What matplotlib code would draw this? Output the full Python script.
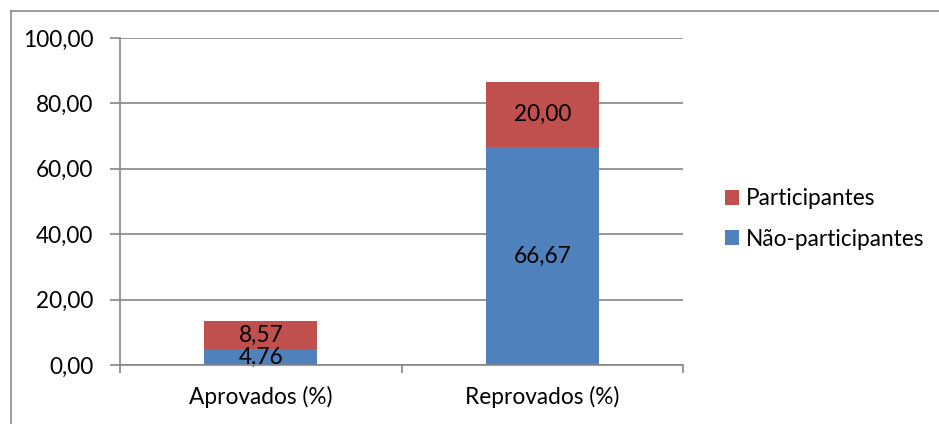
import matplotlib
matplotlib.use("Agg")
import matplotlib.pyplot as plt
from matplotlib.lines import Line2D
from matplotlib.patches import Patch

categories = ["Aprovados (%)", "Reprovados (%)"]
nao_participantes = [4.76, 66.67]
participantes = [8.57, 20.00]
series_names = ["Não-participantes", "Participantes"]
yticks = [0, 20, 40, 60, 80, 100]

BLUE = "#4F81BD"
RED = "#C0504D"
GRID = "#868686"

plt.rcParams['font.family'] = ['Lato', 'DejaVu Sans']

W, H = 939, 424
fig = plt.figure(figsize=(W / 100, H / 100), dpi=100)
fig.patch.set_facecolor("white")

# outer chart frame (top and left edges visible)
fig.add_artist(Line2D([10.5 / W, 10.5 / W], [0, 1 - 10.5 / H], transform=fig.transFigure, color="#8C8C8C", lw=1.2))
fig.add_artist(Line2D([10.5 / W, 1], [1 - 10.5 / H, 1 - 10.5 / H], transform=fig.transFigure, color="#8C8C8C", lw=1.2))

left, right = 120 / W, 683 / W
bottom, top = 1 - 365 / H, 1 - 38 / H
ax = fig.add_axes([left, bottom, right - left, top - bottom])

x = list(range(len(categories)))
width = 0.4
b1 = ax.bar(x, nao_participantes, width, color=BLUE, label=series_names[0], zorder=3)
b2 = ax.bar(x, participantes, width, bottom=nao_participantes, color=RED, label=series_names[1], zorder=3)

def fmt(v):
    return f"{v:.2f}".replace(".", ",")

fs = 16.3
for bars, vals, bases in ((b1, nao_participantes, [0] * len(x)), (b2, participantes, nao_participantes)):
    for rect, v, b0 in zip(bars, vals, bases):
        ax.text(rect.get_x() + rect.get_width() / 2, b0 + v / 2, fmt(v),
                ha="center", va="center", fontsize=fs, color="black", zorder=4)

ax.set_xlim(-0.5, 1.5)
ax.set_ylim(0, 100)
ax.set_yticks(yticks)
ax.set_yticklabels([fmt(t) for t in yticks], fontsize=fs)
ax.set_xticks(x)
ax.set_xticklabels(categories, fontsize=fs)
ax.set_xticks([-0.5, 0.5, 1.5], minor=True)
ax.tick_params(axis="x", which="major", length=0, pad=15)
ax.tick_params(axis="x", which="minor", length=6, color=GRID, width=1.2, direction="out")
ax.tick_params(axis="y", length=7, color=GRID, width=1.2, pad=12, direction="out")
ax.grid(axis="y", color=GRID, lw=1.2, zorder=0)

for s in ("top", "right"):
    ax.spines[s].set_visible(False)
for s in ("left", "bottom"):
    ax.spines[s].set_color(GRID)
    ax.spines[s].set_linewidth(1.2)
ax.spines["bottom"].set_zorder(5)

handles = [Patch(facecolor=RED, edgecolor="none"), Patch(facecolor=BLUE, edgecolor="none")]
labels = [series_names[1], series_names[0]]
fig.legend(handles, labels, loc="center left", bbox_to_anchor=(714 / W, 1 - 219 / H),
           frameon=False, fontsize=fs, handlelength=0.62, handleheight=0.62,
           handletextpad=0.3, labelspacing=0.85, borderpad=0)

fig.savefig("out.png", dpi=100)
